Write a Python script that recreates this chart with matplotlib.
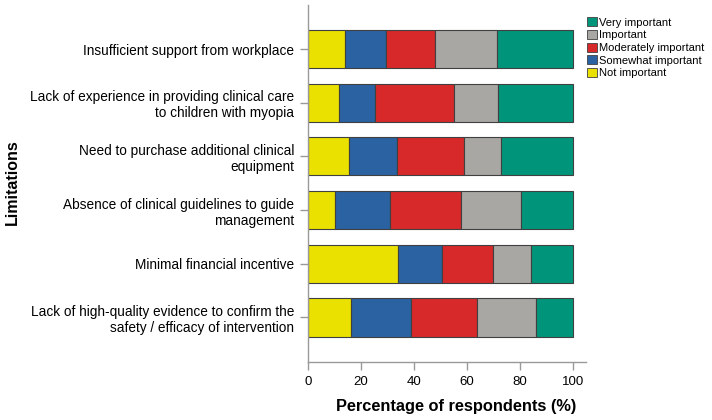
import matplotlib
matplotlib.use("Agg")
import matplotlib.pyplot as plt
import numpy as np
from matplotlib.patches import Patch

plt.rcParams['font.family'] = ['Liberation Sans', 'DejaVu Sans']

categories = [
    "Insufficient support from workplace",
    "Lack of experience in providing clinical care\nto children with myopia",
    "Need to purchase additional clinical\nequipment",
    "Absence of clinical guidelines to guide\nmanagement",
    "Minimal financial incentive",
    "Lack of high-quality evidence to confirm the\nsafety / efficacy of intervention",
]
series_names = ["Not important", "Somewhat important", "Moderately important", "Important", "Very important"]
not_important = [13.9, 11.6, 15.6, 10.3, 33.9, 16.4]
somewhat_important = [15.4, 13.6, 18.2, 20.7, 16.9, 22.6]
moderately_important = [18.5, 29.8, 25.2, 26.9, 18.9, 24.9]
important = [23.6, 16.9, 13.9, 22.7, 14.5, 22.1]
very_important = [28.6, 28.1, 27.1, 19.4, 15.8, 14.0]
x_ticks = [0, 20, 40, 60, 80, 100]

colors = ["#EAE100", "#2A62A2", "#D8292A", "#A9A7A4", "#00957A"]
series = [not_important, somewhat_important, moderately_important, important, very_important]

fig = plt.figure(figsize=(7.12, 4.2), dpi=100)
ax = fig.add_axes([308/712, 58/420, 278/712, 357/420])

n = len(categories)
ypos = np.arange(n)[::-1] + 1
left = np.zeros(n)
for vals, col in zip(series, colors):
    v = np.array(vals)
    ax.barh(ypos, v, left=left, height=0.71, color=col, edgecolor="#404040", linewidth=0.8)
    left += v

ax.set_xlim(0, 105)
ax.set_ylim(0.17, 6.82)
ax.set_yticks(ypos)
ax.set_yticklabels(categories, fontsize=9.8)
ax.set_xticks(x_ticks)
ax.set_xticklabels([str(t) for t in x_ticks], fontsize=9.5)
for s in ["top", "right"]:
    ax.spines[s].set_visible(False)
for s in ["left", "bottom"]:
    ax.spines[s].set_color("#999999")
    ax.spines[s].set_linewidth(1.0)
ax.tick_params(axis="both", colors="#999999", labelcolor="black", length=6, width=1.0, pad=4)

fig.text(456/712, 1 - 406/420, "Percentage of respondents (%)", fontsize=11.8, fontweight="bold",
         ha="center", va="center")
fig.text(12/712, 1 - 182/420, "Limitations", rotation=90, fontsize=11.5, fontweight="bold",
         ha="center", va="center")

handles = [Patch(facecolor=c, edgecolor="#404040", linewidth=0.6, label=l)
           for c, l in zip(colors[::-1], series_names[::-1])]
fig.legend(handles=handles, loc="upper left", bbox_to_anchor=(585/712, 1 - 15/420),
           frameon=False, fontsize=8, handlelength=0.9, handleheight=0.9,
           handletextpad=0.2, labelspacing=0.2, borderaxespad=0, borderpad=0.2)

fig.savefig("out.png", dpi=100)
